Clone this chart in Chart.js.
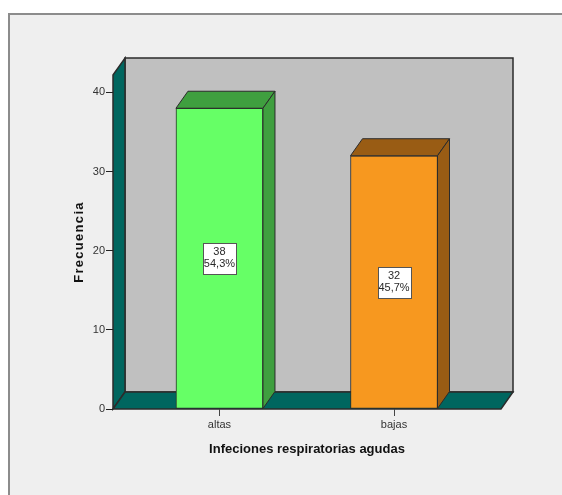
<!DOCTYPE html>
<html>
<head>
<meta charset="utf-8">
<script src="https://cdn.jsdelivr.net/npm/chart.js@4.4.1/dist/chart.umd.min.js"></script>
<style>
  html, body { margin: 0; padding: 0; background: #ffffff; }
  #wrap { width: 562px; height: 495px; }
</style>
</head>
<body>
<div id="wrap"><canvas id="c" width="562" height="495"></canvas></div>
<script>
// Frequencies of acute respiratory infections by type
const categories = ['altas', 'bajas'];
const counts = [38, 32];
const frontColors = ['#66ff66', '#f7981f'];
const shadeColors = ['#3f9f3f', '#995c14'];
const yTicks = [0, 10, 20, 30, 40];
const yTitle = 'Frecuencia';
const xTitle = 'Infeciones respiratorias agudas';

const total = counts.reduce((a, b) => a + b, 0);
const percentLabels = counts.map(v => (v / total * 100).toFixed(1).replace('.', ',') + '%');

// depth of the pseudo-3D projection
const DX = 12, DY = -17;
const TEAL = '#00665f';
const EDGE = '#2b2b2b';
const FONT = '"Liberation Sans", Arial, sans-serif';

function poly(ctx, pts, fill, stroke, lw) {
  ctx.beginPath();
  ctx.moveTo(pts[0][0], pts[0][1]);
  for (let i = 1; i < pts.length; i++) ctx.lineTo(pts[i][0], pts[i][1]);
  ctx.closePath();
  if (fill) { ctx.fillStyle = fill; ctx.fill(); }
  if (stroke) { ctx.strokeStyle = stroke; ctx.lineWidth = lw || 1; ctx.stroke(); }
}

const frameAndWalls = {
  id: 'frameAndWalls',
  beforeDraw(chart) {
    const ctx = chart.ctx;
    const W = chart.width, H = chart.height;
    ctx.save();
    ctx.fillStyle = '#ffffff';
    ctx.fillRect(0, 0, W, H);
    ctx.fillStyle = '#efefef';
    ctx.fillRect(8, 13, W - 8, H - 13);
    ctx.strokeStyle = '#8c8c8c';
    ctx.lineWidth = 2;
    ctx.beginPath();
    ctx.moveTo(9, H);
    ctx.lineTo(9, 14);
    ctx.lineTo(W, 14);
    ctx.stroke();

    const a = chart.chartArea;
    const L = a.left, R = a.right, T = a.top, B = a.bottom;
    // back wall
    poly(ctx, [[L + DX, T + DY], [R + DX, T + DY], [R + DX, B + DY], [L + DX, B + DY]], '#c0c0c0', EDGE, 1.5);
    // left wall
    poly(ctx, [[L, T], [L + DX, T + DY], [L + DX, B + DY], [L, B]], TEAL, EDGE, 1.5);
    // floor
    poly(ctx, [[L, B], [L + DX, B + DY], [R + DX, B + DY], [R, B]], TEAL, EDGE, 1.5);

    // vertical axis title, slightly tracked
    ctx.save();
    ctx.translate(79, (T + B) / 2);
    ctx.rotate(-Math.PI / 2);
    ctx.font = 'bold 13px ' + FONT;
    ctx.fillStyle = '#111111';
    ctx.textAlign = 'center';
    ctx.textBaseline = 'middle';
    try { ctx.letterSpacing = '1.3px'; } catch (e) {}
    ctx.fillText(yTitle, 0, 0);
    ctx.restore();
    ctx.restore();
  },
  afterDatasetsDraw(chart) {
    const ctx = chart.ctx;
    const meta = chart.getDatasetMeta(0);
    ctx.save();
    meta.data.forEach((bar, i) => {
      const half = bar.width / 2;
      const x0 = bar.x - half, x1 = bar.x + half;
      const top = bar.y, base = bar.base;
      // top face
      poly(ctx, [[x0, top], [x0 + DX, top + DY], [x1 + DX, top + DY], [x1, top]], shadeColors[i], EDGE, 1);
      // side face
      poly(ctx, [[x1, top], [x1 + DX, top + DY], [x1 + DX, base + DY], [x1, base]], shadeColors[i], EDGE, 1);

      // value label box
      const cy = (top + base) / 2;
      const bw = 33, bh = 31;
      const bx = Math.round(bar.x - bw / 2) + 0.5, by = Math.round(cy - bh / 2) + 0.5;
      ctx.fillStyle = '#ffffff';
      ctx.fillRect(bx, by, bw, bh);
      ctx.strokeStyle = '#555555';
      ctx.lineWidth = 1;
      ctx.strokeRect(bx, by, bw, bh);
      ctx.fillStyle = '#2a2a2a';
      ctx.font = '11px ' + FONT;
      ctx.textAlign = 'center';
      ctx.textBaseline = 'middle';
      ctx.fillText(String(counts[i]), bar.x, cy - 6);
      ctx.fillText(percentLabels[i], bar.x, cy + 6);
    });
    ctx.restore();
  }
};

new Chart(document.getElementById('c'), {
  type: 'bar',
  data: {
    datasets: [{
      data: counts.map((v, i) => ({ x: i + 1, y: v })),
      backgroundColor: frontColors,
      borderColor: EDGE,
      borderWidth: 1,
      borderSkipped: false,
      barThickness: 87
    }]
  },
  options: {
    responsive: false,
    animation: false,
    devicePixelRatio: 1,
    layout: { padding: { left: 0, top: 75, right: 61, bottom: 0 } },
    plugins: { legend: { display: false }, tooltip: { enabled: false } },
    scales: {
      x: {
        type: 'linear',
        offset: false,
        min: 0.39,
        max: 2.613,
        afterBuildTicks(scale) { scale.ticks = categories.map((c, i) => ({ value: i + 1 })); },
        afterFit(scale) { scale.height = 86; },
        ticks: {
          callback: (v) => categories[v - 1],
          color: '#333333',
          font: { family: FONT, size: 11 },
          padding: 2,
          maxRotation: 0
        },
        grid: { display: true, offset: false, drawOnChartArea: false, drawTicks: true, tickLength: 7, color: '#444444' },
        border: { display: false },
        title: {
          display: true,
          text: xTitle,
          color: '#111111',
          font: { family: FONT, size: 13, weight: 'bold' },
          padding: { top: 0, bottom: 38 }
        }
      },
      y: {
        min: 0,
        max: 42.2,
        afterBuildTicks(scale) { scale.ticks = yTicks.map(v => ({ value: v })); },
        afterFit(scale) { scale.width = 113; },
        ticks: {
          color: '#333333',
          font: { family: FONT, size: 11 },
          padding: 1
        },
        grid: { display: true, drawOnChartArea: false, drawTicks: true, tickLength: 7, color: '#222222' },
        border: { display: false },
        title: { display: false }
      }
    }
  },
  plugins: [frameAndWalls]
});
</script>
</body>
</html>
